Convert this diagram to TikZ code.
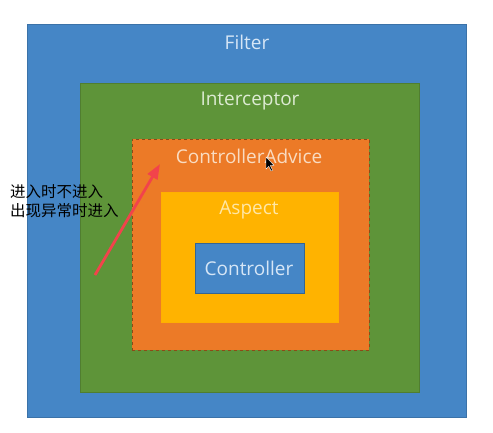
\documentclass[tikz,border=0pt]{standalone}
\usepackage{fontspec}
\setmainfont{Open Sans}
\newfontfamily\cjk{Noto Sans CJK SC}
\usetikzlibrary{arrows.meta}
\definecolor{fblue}{HTML}{4586C6}
\definecolor{fgreen}{HTML}{5E9439}
\definecolor{forange}{HTML}{EC7A27}
\definecolor{fyellow}{HTML}{FFB300}
\definecolor{tblue}{HTML}{D6E6F6}
\definecolor{tgreen}{HTML}{DDEBD3}
\definecolor{torange}{HTML}{F9DCC2}
\definecolor{tyellow}{HTML}{FFE7A6}
\definecolor{arrowred}{HTML}{F2434B}
\tikzset{
  layer/.style={rectangle, anchor=north west, inner sep=0pt, line width=0.8pt},
  lab/.style={inner sep=0pt, font=\fontsize{19}{21}\selectfont},
}
\begin{document}
\begin{tikzpicture}[x=1pt,y=-1pt]
\useasboundingbox (0,0) rectangle (493,432);
\fill[white] (0,0) rectangle (493,432);
\node[layer, fill=fblue, draw=fblue!85!black, minimum width=439pt, minimum height=393pt] (filter) at (27,24) {};
\node[layer, fill=fgreen, draw=fgreen!85!black, minimum width=339pt, minimum height=309pt] (inter) at (80,83) {};
\node[layer, fill=forange, draw=forange!60!black, dashed, minimum width=237pt, minimum height=211pt] (advice) at (131.5,138.5) {};
\node[layer, fill=fyellow, draw=fyellow!95!orange, minimum width=177pt, minimum height=130pt] (aspect) at (161,192) {};
\node[layer, fill=fblue, draw=fblue!75!black, minimum width=109pt, minimum height=50pt] (ctrl) at (195,243) {};
\node[lab, text=tblue] (tfilter) at (247,42) {Filter};
\node[lab, text=tgreen] (tinter) at (250,101) {Interceptor};
\node[lab, text=torange] (tadvice) at (249,156) {ControllerAdvice};
\node[lab, text=tyellow] (taspect) at (249,210) {Aspect};
\node[lab, text=tblue] (tctrl) at (249,268) {Controller};
\node[inner sep=0pt, anchor=west, align=left, font=\cjk\fontsize{15.5}{18.5}\selectfont] (note) at (10,201) {进入时不进入\\出现异常时进入};
\coordinate (astart) at (95,275);
\coordinate (aend) at (160,164);
\draw[arrowred, line width=2.8pt, -{Triangle[length=15pt,width=11pt]}] (astart) -- (aend);
\fill[black, draw=white, line width=0.4pt] (266,157) -- (266,169) -- (268.8,166.3) -- (271,171) -- (272.6,170.2) -- (270.4,165.6) -- (274,165.3) -- cycle;
\end{tikzpicture}
\end{document}
